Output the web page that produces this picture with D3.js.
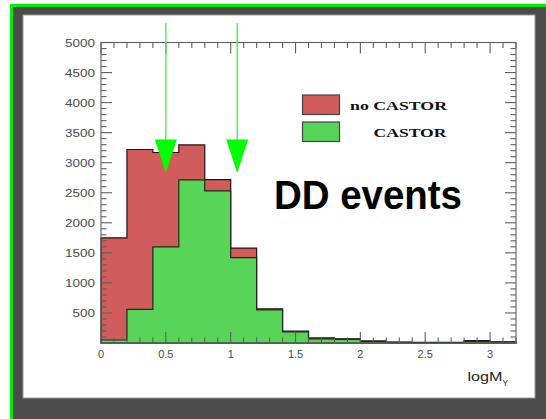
<!DOCTYPE html>
<html>
<head>
<meta charset="utf-8">
<script src="https://cdn.jsdelivr.net/npm/d3@7"></script>
<style>
  html, body { margin: 0; padding: 0; background: #fff; }
  svg { display: block; }
</style>
</head>
<body>
<svg id="chart" width="546" height="419"></svg>
<script>
// Histogram bins of logM_Y (width 0.2, from 0 to 3.2)
const binEdges = [0, 0.2, 0.4, 0.6, 0.8, 1.0, 1.2, 1.4, 1.6, 1.8, 2.0, 2.2, 2.4, 2.6, 2.8, 3.0, 3.2];
const noCastor = [1750, 3220, 3170, 3295, 2720, 1580, 570, 200, 85, 70, 35, 15, 12, 12, 40, 20];
const castor   = [50, 560, 1600, 2715, 2530, 1420, 550, 185, 70, 60, 25, 10, 8, 8, 25, 15];
const arrowPositions = [0.5, 1.05];
const yTickValues = [500, 1000, 1500, 2000, 2500, 3000, 3500, 4000, 4500, 5000];
const xTickValues = [0, 0.5, 1, 1.5, 2, 2.5, 3];
const xTickLabels = ["0", "0.5", "1", "1.5", "2", "2.5", "3"];
const legendLabels = ["no CASTOR", "CASTOR"];

const svg = d3.select("#chart");

// outer frame: dark panel with a green edge, white pad inside
svg.append("rect").attr("x", 10).attr("y", 4).attr("width", 536).attr("height", 415).attr("fill", "#00ee00");
svg.append("rect").attr("x", 13).attr("y", 7).attr("width", 533).attr("height", 412).attr("fill", "#4b4b4b");
svg.append("rect").attr("x", 23).attr("y", 15).attr("width", 512).attr("height", 383)
   .attr("fill", "#fff").attr("stroke", "#9a9a9a").attr("stroke-width", 1);

const plotLeft = 101, plotRight = 516, plotTop = 42.5, plotBottom = 343;
const x = d3.scaleLinear().domain([0, 3.2]).range([plotLeft, plotRight]);
const y = d3.scaleLinear().domain([0, 5000]).range([plotBottom, plotTop]);

// step outline of a histogram, closed along the baseline
function stepPath(values) {
  const p = d3.path();
  p.moveTo(x(binEdges[0]), y(0));
  values.forEach((v, i) => {
    p.lineTo(x(binEdges[i]), y(v));
    p.lineTo(x(binEdges[i + 1]), y(v));
  });
  p.lineTo(x(binEdges[binEdges.length - 1]), y(0));
  p.closePath();
  return p.toString();
}

const red = "#d05c5c", green = "#58d458";
svg.append("path").attr("d", stepPath(noCastor)).attr("fill", red)
   .attr("stroke", "#2a1010").attr("stroke-width", 1.2).attr("stroke-linejoin", "miter");
svg.append("path").attr("d", stepPath(castor)).attr("fill", green)
   .attr("stroke", "#1c2a1c").attr("stroke-width", 1.2).attr("stroke-linejoin", "miter");

// frame axes with ROOT-style inward ticks on all four sides
const axisColor = "#5e5e5e";
const ax = svg.append("g").attr("stroke", axisColor).attr("stroke-width", 1.1).attr("fill", "none");
ax.append("rect").attr("x", plotLeft).attr("y", plotTop)
  .attr("width", plotRight - plotLeft).attr("height", plotBottom - plotTop);

const yMinor = d3.range(0, 5001, 100);
yMinor.forEach(v => {
  const major = v % 500 === 0;
  const len = major ? 11 : 5.5;
  ax.append("line").attr("x1", plotLeft).attr("x2", plotLeft + len).attr("y1", y(v)).attr("y2", y(v));
  ax.append("line").attr("x1", plotRight).attr("x2", plotRight - len).attr("y1", y(v)).attr("y2", y(v));
});
const xMinor = d3.range(0, 32.01, 1).map(d => d / 10);
xMinor.forEach(v => {
  const major = Math.abs(v * 2 - Math.round(v * 2)) < 1e-6;
  const len = major ? 11 : 5.5;
  ax.append("line").attr("x1", x(v)).attr("x2", x(v)).attr("y1", plotBottom).attr("y2", plotBottom - len);
  ax.append("line").attr("x1", x(v)).attr("x2", x(v)).attr("y1", plotTop).attr("y2", plotTop + len);
});

// tick labels
const yAxisLabels = svg.append("g").attr("font-family", "Liberation Sans, Arial, sans-serif")
   .attr("font-size", 11).attr("fill", "#4a4a4a");
yTickValues.forEach(v => {
  yAxisLabels.append("text").attr("x", 95).attr("y", y(v) + 4).attr("text-anchor", "end")
    .attr("textLength", String(v).length * 7.5).attr("lengthAdjust", "spacingAndGlyphs")
    .text(v);
});
const xAxisLabels = svg.append("g").attr("font-family", "Liberation Sans, Arial, sans-serif")
   .attr("font-size", 11).attr("fill", "#4a4a4a").attr("text-anchor", "middle");
xTickValues.forEach((v, i) => {
  xAxisLabels.append("text").attr("x", x(v)).attr("y", 357.5).text(xTickLabels[i]);
});

// axis title logM_Y
const title = svg.append("text").attr("x", 467.5).attr("y", 381)
   .attr("font-family", "Liberation Sans, Arial, sans-serif").attr("font-size", 13).attr("fill", "#222");
title.append("tspan").attr("textLength", 35).attr("lengthAdjust", "spacingAndGlyphs").text("logM");
title.append("tspan").attr("font-size", 8.5).attr("dy", 5).text("Y");

// arrows marking the two cuts
const arrowColor = "#00ff00";
arrowPositions.forEach(v => {
  const cx = x(v);
  svg.append("line").attr("x1", cx).attr("x2", cx).attr("y1", 23).attr("y2", 150)
     .attr("stroke", "#44ee44").attr("stroke-width", 1.3);
  svg.append("path")
     .attr("d", `M${cx - 11},139.5 L${cx + 11},139.5 L${cx},173 Z`)
     .attr("fill", arrowColor);
});

// legend
const legend = svg.append("g");
[red, green].forEach((c, i) => {
  legend.append("rect").attr("x", 302.5).attr("y", 95 + i * 27).attr("width", 37).attr("height", 19.5)
    .attr("fill", c).attr("stroke", "#444").attr("stroke-width", 1.2);
});
const legendText = legend.append("g").attr("font-family", "Liberation Serif, Times New Roman, serif")
   .attr("font-weight", "bold").attr("font-size", 13.5).attr("fill", "#111");
legendText.append("text").attr("x", 350).attr("y", 109.5)
   .attr("textLength", 97).attr("lengthAdjust", "spacingAndGlyphs").text(legendLabels[0]);
legendText.append("text").attr("x", 373.5).attr("y", 136.5)
   .attr("textLength", 73).attr("lengthAdjust", "spacingAndGlyphs").text(legendLabels[1]);

// annotation
svg.append("text").attr("x", 274).attr("y", 209)
   .attr("font-family", "Liberation Sans, Arial, sans-serif").attr("font-weight", "bold")
   .attr("font-size", 40).attr("fill", "#000")
   .attr("textLength", 188).attr("lengthAdjust", "spacingAndGlyphs").text("DD events");
</script>
</body>
</html>
